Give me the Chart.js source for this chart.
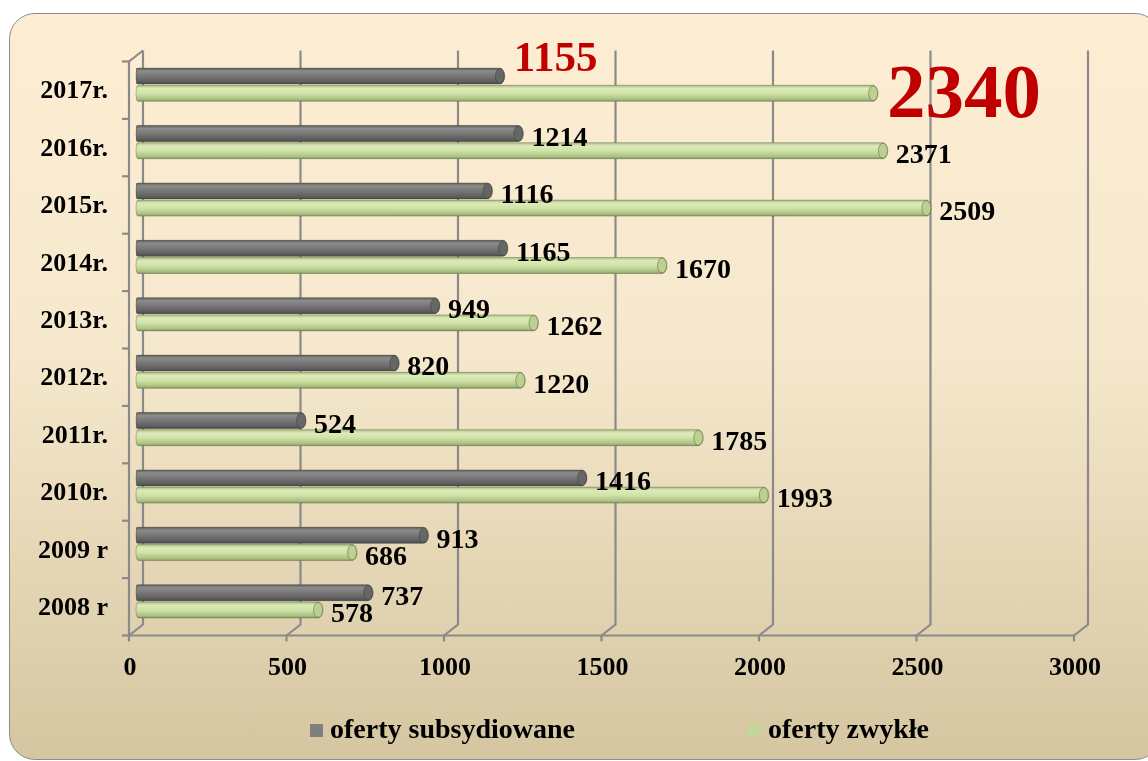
<!DOCTYPE html>
<html>
<head>
<meta charset="utf-8">
<script src="https://cdn.jsdelivr.net/npm/chart.js@4/dist/chart.umd.min.js"></script>
<style>
    html, body { margin: 0; padding: 0; background: #fff; overflow: hidden; }
    #frame {
        position: absolute; left: 9px; top: 13px; width: 1150px; height: 745px;
        border: 1.5px solid #8c8c8c; border-radius: 26px;
        background: linear-gradient(#fdeed3 0%, #f6e8cc 45%, #d5c6a1 100%);
    }
    #wrap { position: absolute; left: 0; top: 0; width: 1148px; height: 761px; }
</style>
</head>
<body>
<div id="frame"></div>
<div id="wrap"><canvas id="chart" width="1148" height="761"></canvas></div>
<script>
const years = ["2017r.", "2016r.", "2015r.", "2014r.", "2013r.", "2012r.", "2011r.", "2010r.", "2009 r", "2008 r"];
const subsidised = [1155, 1214, 1116, 1165, 949, 820, 524, 1416, 913, 737];
const regular = [2340, 2371, 2509, 1670, 1262, 1220, 1785, 1993, 686, 578];
const xTicks = [0, 500, 1000, 1500, 2000, 2500, 3000];

const FONT = "'Liberation Serif', 'Times New Roman', serif";
const DX = 7, DY = 5.5;   // half of the 3D depth

// 3D box: back wall grid, floor lines, front axes
let frame3d = {
    id: "frame3d",
    beforeDatasetsDraw: (chart) => {
        let ctx = chart.ctx;
        let xs = chart.scales.x, ys = chart.scales.y;
        let a = chart.chartArea;
        ctx.save();
        ctx.strokeStyle = "#8a8a8a";
        ctx.lineWidth = 2.2;
        xTicks.forEach(v => {
            let px = xs.getPixelForValue(v);
            ctx.beginPath();
            ctx.moveTo(px - DX, a.bottom + DY);
            ctx.lineTo(px + DX, a.bottom - DY);
            ctx.lineTo(px + DX, a.top - DY);
            ctx.stroke();
            // tick below the front axis
            ctx.beginPath();
            ctx.moveTo(px - DX, a.bottom + DY);
            ctx.lineTo(px - DX, a.bottom + DY + 6);
            ctx.stroke();
        });
        // front bottom axis
        ctx.beginPath();
        ctx.moveTo(a.left - DX, a.bottom + DY);
        ctx.lineTo(xs.getPixelForValue(3000) - DX, a.bottom + DY);
        ctx.stroke();
        // front left axis with top bevel
        ctx.beginPath();
        ctx.moveTo(a.left - DX, a.bottom + DY);
        ctx.lineTo(a.left - DX, a.top + DY);
        ctx.lineTo(a.left + DX, a.top - DY);
        ctx.stroke();
        // category boundary ticks
        let n = years.length;
        for (let i = 0; i <= n; i++) {
            let py = ys.getPixelForValue(i - 0.5) + DY;
            ctx.beginPath();
            ctx.moveTo(a.left - DX - 7, py);
            ctx.lineTo(a.left - DX, py);
            ctx.stroke();
        }
        ctx.restore();
    }
};

// cylinder shading on top of the library's bars
let shading = {
    id: "shading",
    afterDatasetsDraw: (chart) => {
        let ctx = chart.ctx;
        let stops = [
            [[0, "#5a5a5a"], [0.18, "#8c8c8c"], [0.45, "#7b7b7b"], [0.85, "#5e5e5e"], [1, "#4a4a4a"]],
            [[0, "#a9bd80"], [0.2, "#dcebb8"], [0.5, "#d0e3a8"], [0.85, "#aec285"], [1, "#869c5c"]]
        ];
        let caps = ["#666666", "#bcd08f"];
        chart.data.datasets.forEach((ds, di) => {
            let meta = chart.getDatasetMeta(di);
            meta.data.forEach(el => {
                let p = el.getProps(["x", "y", "base", "height"], true);
                let top = p.y - p.height / 2, h = p.height, r = h / 2;
                let g = ctx.createLinearGradient(0, top, 0, top + h);
                stops[di].forEach(s => g.addColorStop(s[0], s[1]));
                ctx.save();
                ctx.fillStyle = g;
                ctx.beginPath();
                ctx.moveTo(p.base + 2, top);
                ctx.lineTo(p.x, top);
                ctx.ellipse(p.x, p.y, 5, r, 0, -Math.PI / 2, Math.PI / 2);
                ctx.lineTo(p.base + 2, top + h);
                ctx.ellipse(p.base + 2, p.y, 2, r, 0, Math.PI / 2, Math.PI * 1.5);
                ctx.closePath();
                ctx.fill();
                ctx.strokeStyle = "rgba(60,60,40,0.3)";
                ctx.lineWidth = 1;
                ctx.stroke();
                // end cap
                ctx.beginPath();
                ctx.ellipse(p.x, p.y, 4.5, r - 0.5, 0, 0, Math.PI * 2);
                ctx.fillStyle = caps[di];
                ctx.fill();
                ctx.strokeStyle = "rgba(40,40,30,0.35)";
                ctx.stroke();
                ctx.restore();
            });
        });
    }
};

// value labels next to bar ends
let valueLabels = {
    id: "valueLabels",
    afterDatasetsDraw: (chart) => {
        let ctx = chart.ctx;
        ctx.save();
        ctx.textBaseline = "middle";
        ctx.textAlign = "left";
        chart.data.datasets.forEach((ds, di) => {
            let meta = chart.getDatasetMeta(di);
            meta.data.forEach((el, i) => {
                let p = el.getProps(["x", "y"], true);
                let txt = String(ds.data[i]);
                if (i === 0 && di === 0) {
                    ctx.fillStyle = "#c00000";
                    ctx.font = "bold 43px " + FONT;
                    ctx.fillText(txt, p.x + 14, p.y - 16);
                } else if (i === 0 && di === 1) {
                    ctx.fillStyle = "#c00000";
                    ctx.font = "bold 77px " + FONT;
                    ctx.fillText(txt, p.x + 14, p.y + 4);
                } else {
                    ctx.fillStyle = "#000";
                    ctx.font = "bold 28px " + FONT;
                    ctx.fillText(txt, p.x + 13, p.y + 5);
                }
            });
        });
        ctx.restore();
    }
};

// legend drawn at the bottom, items spaced wide apart
let legendBottom = {
    id: "legendBottom",
    afterDraw: (chart) => {
        let ctx = chart.ctx;
        let xs = [310, 748];
        let marks = ["#7f7f7f", "#c3d69b"];
        ctx.save();
        ctx.font = "bold 28px " + FONT;
        ctx.textBaseline = "middle";
        chart.data.datasets.forEach((ds, i) => {
            ctx.fillStyle = marks[i];
            ctx.fillRect(xs[i], 724, 13, 13);
            ctx.fillStyle = "#000";
            ctx.fillText(ds.label, xs[i] + 20, 731);
        });
        ctx.restore();
    }
};

let ctx = document.getElementById("chart").getContext("2d");
new Chart(ctx, {
    type: "bar",
    data: {
        labels: years,
        datasets: [
            {
                label: "oferty subsydiowane",
                data: subsidised,
                backgroundColor: "#7f7f7f",
                categoryPercentage: 0.6,
                barPercentage: 0.93
            },
            {
                label: "oferty zwykłe",
                data: regular,
                backgroundColor: "#d7e4bd",
                categoryPercentage: 0.6,
                barPercentage: 0.93
            }
        ]
    },
    options: {
        indexAxis: "y",
        responsive: false,
        animation: false,
        layout: { padding: { top: 56, right: 67, left: 0, bottom: 0 } },
        plugins: {
            legend: { display: false },
            tooltip: { enabled: false }
        },
        scales: {
            x: {
                min: 0,
                max: 3000,
                afterBuildTicks: (scale) => { scale.ticks = xTicks.map(v => ({ value: v })); },
                afterFit: (scale) => { scale.height = 131; },
                grid: { display: false },
                border: { display: false },
                ticks: {
                    color: "#000",
                    font: { family: FONT, size: 26, weight: "bold" },
                    padding: 15,
                    labelOffset: -6,
                    callback: (v) => String(v)
                }
            },
            y: {
                afterFit: (scale) => { scale.width = 136; },
                grid: { display: false },
                border: { display: false },
                ticks: {
                    color: "#000",
                    font: { family: FONT, size: 26, weight: "bold" },
                    padding: 20,
                    labelOffset: 7
                }
            }
        }
    },
    plugins: [frame3d, shading, valueLabels, legendBottom]
});
</script>
</body>
</html>
